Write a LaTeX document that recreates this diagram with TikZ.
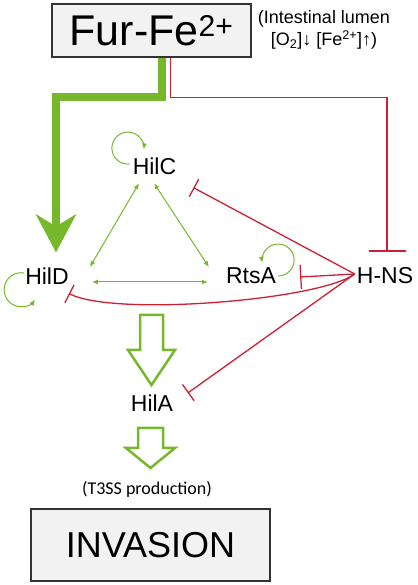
\documentclass[tikz,border=0pt]{standalone}
\usepackage{fontspec}
\setmainfont{Liberation Sans}
\newfontfamily\calibri{Carlito}
\usetikzlibrary{arrows.meta,calc}

\definecolor{actgreen}{RGB}{119,183,44}
\definecolor{represred}{RGB}{204,32,52}

\tikzset{
 box/.style={draw=black!80, fill=black!5, line width=1.2pt, inner sep=0pt},
 gene/.style={font=\fontsize{23}{27}\selectfont, inner sep=2pt},
 activ/.style={actgreen, line width=1pt, {Latex[length=6pt,width=5pt]}-{Latex[length=6pt,width=5pt]}},
 selfloop/.style={actgreen, line width=1pt, -{Latex[length=6pt,width=5pt]}},
 repress/.style={draw=represred, line width=1.3pt, -{Bar[width=#1]}},
 repress/.default=20pt,
 furact/.style={actgreen, line width=8pt, line join=miter, -{Stealth[length=38pt,width=40pt,inset=12pt]}},
 bigarrow/.style={draw=actgreen, line width=2.5pt, fill=white, line join=miter},
}

\begin{document}
\begin{tikzpicture}[x=1pt,y=1pt]
\useasboundingbox (0,0) rectangle (417,585);

\node[box, minimum width=199pt, minimum height=53pt] (fur) at (151.5,554.5) {\fontsize{43}{48}\selectfont Fur-Fe\textsuperscript{2+}};
\node[align=center, font=\fontsize{18}{22}\selectfont] (lumen) at (324,555) {(Intestinal lumen\\{}[O\textsubscript{2}]↓ [Fe\textsuperscript{2+}]↑)};

\node[gene] (hilc) at (154.5,419) {HilC};
\node[gene] (hild) at (47,309) {HilD};
\node[gene] (rtsa) at (251,309) {RtsA};
\node[gene] (hns) at (385,309) {H-NS};
\node[gene] (hila) at (152,182) {HilA};
\node[font=\calibri\fontsize{18}{22}\selectfont] (t3ss) at (147,96) {(T3SS production)};
\node[box, minimum width=239pt, minimum height=72pt] (inv) at (150.5,40) {\fontsize{36}{40}\selectfont INVASION};

% Fur-Fe2+ input
\draw[furact] ([xshift=10.5pt]fur.south) -- ++(0,-39.5) -| ([shift={(9pt,13pt)}]hild.north);
\draw[repress=37pt] ([xshift=19pt]fur.south) -- ++(0,-40) -| ([shift={(2pt,14pt)}]hns.north);

% self activation
\draw[selfloop] ([shift={(-1pt,2pt)}]hilc.west) arc[start angle=276, end angle=-5, radius=16pt];
\draw[selfloop] ([shift={(1pt,3pt)}]hild.west) arc[start angle=80, end angle=325, radius=17pt];
\draw[selfloop] (rtsa.east) arc[start angle=-90, end angle=190, radius=16pt];

% feed forward loop
\draw[activ] ([shift={(-15.5pt,-6.6pt)}]hilc.south) -- ([shift={(19pt,9pt)}]hild.east);
\draw[activ] ([shift={(-0.5pt,-6.6pt)}]hilc.south) -- ([shift={(-15pt,9pt)}]rtsa.west);
\draw[activ] ([shift={(21pt,-6pt)}]hild.east) -- ([shift={(-16pt,-6pt)}]rtsa.west);

% H-NS silencing
\draw[repress] ([yshift=2pt]hns.west) -- ([shift={(15pt,-11pt)}]hilc.south east);
\draw[repress=24pt] ([yshift=2pt]hns.west) -- ([shift={(22pt,-1pt)}]rtsa.east);
\draw[repress] ([yshift=2pt]hns.west) .. controls (320,285) and (115,268) .. ([shift={(-2pt,-7pt)}]hild.south east);
\draw[repress] ([yshift=2pt]hns.west) -- ([shift={(12.5pt,10pt)}]hila.east);

% output
\coordinate (flow1) at (151.5,270);
\coordinate (flow2) at (150.5,157);
\draw[bigarrow] (flow1) ++(-11.5,0) -- ++(0,-35) -- ++(-12,0) -- ++(23.5,-35) -- ++(23.5,35) -- ++(-12,0) -- ++(0,35) -- cycle;
\draw[bigarrow] (flow2) ++(-12.5,0) -- ++(0,-20) -- ++(-12,0) -- ++(24.5,-20) -- ++(24.5,20) -- ++(-12,0) -- ++(0,20) -- cycle;
\end{tikzpicture}
\end{document}
